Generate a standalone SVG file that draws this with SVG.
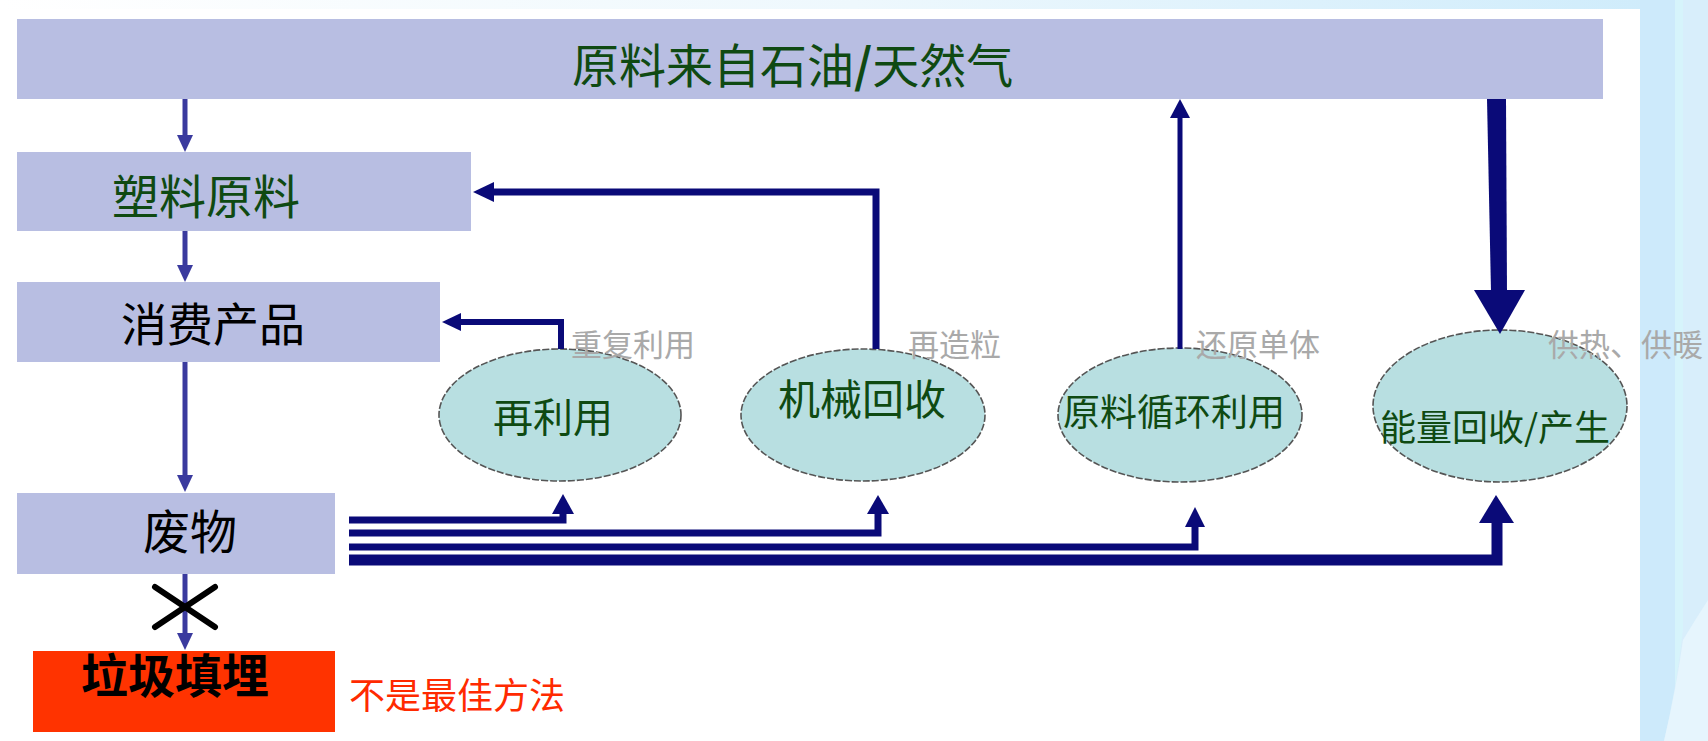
<svg xmlns="http://www.w3.org/2000/svg" width="1708" height="741" viewBox="0 0 1708 741">
<defs>
<linearGradient id="topg" x1="0" y1="0" x2="1" y2="0">
<stop offset="0" stop-color="#ffffff"/>
<stop offset="0.5" stop-color="#eef8fd"/>
<stop offset="1" stop-color="#cdebfb"/>
</linearGradient>
<style>
.box{fill:#b8bee2;}
.ell{fill:#b8dfe1;stroke:#555;stroke-width:1.6;stroke-dasharray:7 2;}
.t{font-family:"Noto Sans CJK SC","Noto Sans",sans-serif;}
.green{fill:#0f4a12;}
.black{fill:#000;}
.gray{fill:#a9a9a9;font-size:31px;}
.la{stroke:#3a3a9e;stroke-width:5;fill:none;}
.lah{fill:#3a3a9e;}
.nv{stroke:#0a0a78;fill:none;stroke-linejoin:miter;}
.nvh{fill:#0a0a78;}
</style>
</defs>
<rect x="0" y="0" width="1708" height="741" fill="#ffffff"/>
<rect x="0" y="0" width="1708" height="9" fill="url(#topg)"/>
<rect x="1640" y="0" width="68" height="741" fill="#cdeafb"/>
<rect x="1675" y="0" width="8" height="741" fill="#d6f4fb"/>
<path d="M1683,0 H1708 V741 H1664 Q1676,690 1683,630 Z" fill="#d8eefb"/>
<path d="M1708,600 V741 H1664 Q1676,690 1683,640 Q1695,620 1708,600 Z" fill="#e6f5fd"/>

<g id="node-top">
<rect class="box" x="17" y="19" width="1586" height="80"/>
<text class="t green" x="572" y="83" font-size="47">原料来自石油<tspan font-weight="bold">/</tspan>天然气</text>
</g>
<g id="node-plastic">
<rect class="box" x="17" y="152" width="454" height="79"/>
<text class="t green" x="112" y="214" font-size="47">塑料原料</text>
</g>
<g id="node-product">
<rect class="box" x="17" y="282" width="423" height="80"/>
<text class="t black" x="121" y="341" font-size="46">消费产品</text>
</g>
<g id="node-waste">
<rect class="box" x="17" y="493" width="318" height="81"/>
<text class="t black" x="143" y="549" font-size="47">废物</text>
</g>
<g id="node-landfill">
<rect x="33" y="651" width="302" height="81" fill="#ff3300"/>
<text class="t black" x="81" y="693" font-size="47" font-weight="bold">垃圾填埋</text>
<text class="t" x="349" y="709" font-size="36" fill="#ff2a00">不是最佳方法</text>
</g>
<g id="node-reuse">
<ellipse class="ell" cx="560" cy="415" rx="121" ry="66"/>
<text class="t green" x="553" y="432" font-size="40" text-anchor="middle">再利用</text>
</g>
<g id="node-mech">
<ellipse class="ell" cx="863" cy="415" rx="122" ry="66"/>
<text class="t green" x="862" y="415" font-size="42" text-anchor="middle">机械回收</text>
</g>
<g id="node-feedstock">
<ellipse class="ell" cx="1180" cy="415" rx="122" ry="67"/>
<text class="t green" x="1174" y="426" font-size="37" text-anchor="middle">原料循环利用</text>
</g>
<g id="node-energy">
<ellipse class="ell" cx="1500" cy="406" rx="127" ry="76"/>
<text class="t green" x="1495" y="441" font-size="36" text-anchor="middle">能量回收/产生</text>
</g>

<g id="labels">
<text class="t gray" x="571" y="356">重复利用</text>
<text class="t gray" x="908" y="356">再造粒</text>
<text class="t gray" x="1196" y="356">还原单体</text>
<text class="t gray" x="1548" y="356">供热、供暖</text>
</g>

<g id="connectors">
<line class="la" x1="185" y1="99" x2="185" y2="138"/>
<polygon class="lah" points="177,135 193,135 185,152"/>
<line class="la" x1="185" y1="231" x2="185" y2="268"/>
<polygon class="lah" points="177,265 193,265 185,282"/>
<line class="la" x1="185" y1="362" x2="185" y2="478"/>
<polygon class="lah" points="177,475 193,475 185,492"/>
<line class="la" x1="185" y1="574" x2="185" y2="636"/>
<polygon class="lah" points="177,633 193,633 185,650"/>
<g stroke="#000" stroke-width="6" stroke-linecap="round">
<line x1="155" y1="587" x2="215" y2="627"/>
<line x1="155" y1="627" x2="215" y2="587"/>
</g>

<path class="nv" stroke-width="6" d="M561,349 V322 H458"/>
<polygon class="nvh" points="442,322 461,313 461,331"/>
<path class="nv" stroke-width="7" d="M876,349 V192 H490"/>
<polygon class="nvh" points="473,192 494,182 494,202"/>
<line class="nv" stroke-width="5" x1="1180" y1="349" x2="1180" y2="114"/>
<polygon class="nvh" points="1180,99 1170,118 1190,118"/>
<polygon class="nvh" points="1487,99 1506,99 1507,292 1491,292"/>
<polygon class="nvh" points="1474,290 1525,290 1500,334"/>

<path class="nv" stroke-width="7" d="M349,520 H563 V512"/>
<polygon class="nvh" points="552,514 574,514 563,494"/>
<path class="nv" stroke-width="7" d="M349,533 H878 V512"/>
<polygon class="nvh" points="867,514 889,514 878,495"/>
<path class="nv" stroke-width="7" d="M349,547 H1195 V525"/>
<polygon class="nvh" points="1185,527 1205,527 1195,507"/>
<path class="nv" stroke-width="11" d="M349,560 H1497 V521"/>
<polygon class="nvh" points="1479,523 1514,523 1496,495"/>
</g>
</svg>
